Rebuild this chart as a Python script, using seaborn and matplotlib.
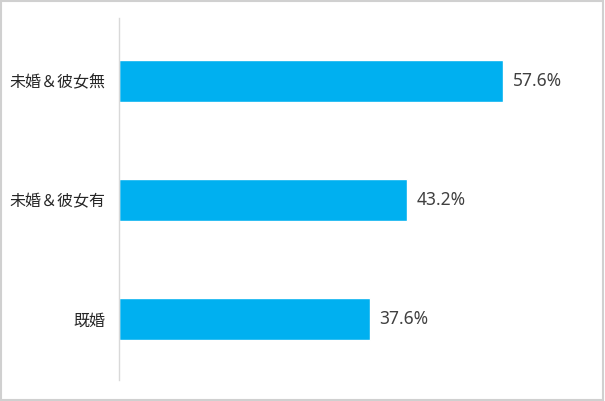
import matplotlib
matplotlib.use("Agg")
import matplotlib.pyplot as plt
import seaborn as sns
import pandas as pd
from matplotlib.patches import Rectangle

# dane
categories = ["未婚＆彼女無", "未婚＆彼女有", "既婚"]
values = [57.6, 43.2, 37.6]
value_labels = ["57.6%", "43.2%", "37.6%"]

sns.set_style("white")
plt.rcParams['font.family'] = ['Noto Sans CJK JP', 'DejaVu Sans']

df = pd.DataFrame({"cat": categories, "val": values})

fig = plt.figure(figsize=(6.05, 4.01), dpi=100)
ax = fig.add_axes([119 / 605, 21 / 401, (586 - 119) / 605, 362 / 401])

sns.barplot(data=df, x="val", y="cat", orient="h", color="#00B0F0",
            saturation=1, width=0.355, ax=ax)

for i, (v, lab) in enumerate(zip(values, value_labels)):
    ax.text(v + 1.4, i, lab, va="center", ha="left", fontsize=12.5,
            color="#404040", family=["Noto Sans", "DejaVu Sans"])

ax.set_xlim(0, 70)
ax.set_ylim(2.513, -0.529)
ax.set_xlabel("")
ax.set_ylabel("")
ax.set_xticks([])
ax.tick_params(axis="y", length=0, pad=10, labelsize=11.5, labelcolor="#262626")
for s in ["top", "right", "bottom"]:
    ax.spines[s].set_visible(False)
ax.spines["left"].set_color("#D9D9D9")
ax.spines["left"].set_linewidth(1)

# ramka wokół wykresu
fig.patches.append(Rectangle((0.002, 0.003), 0.995, 0.994, transform=fig.transFigure,
                             fill=False, edgecolor="#D0D0D0", linewidth=1.5))

fig.savefig("out.png", dpi=100)
